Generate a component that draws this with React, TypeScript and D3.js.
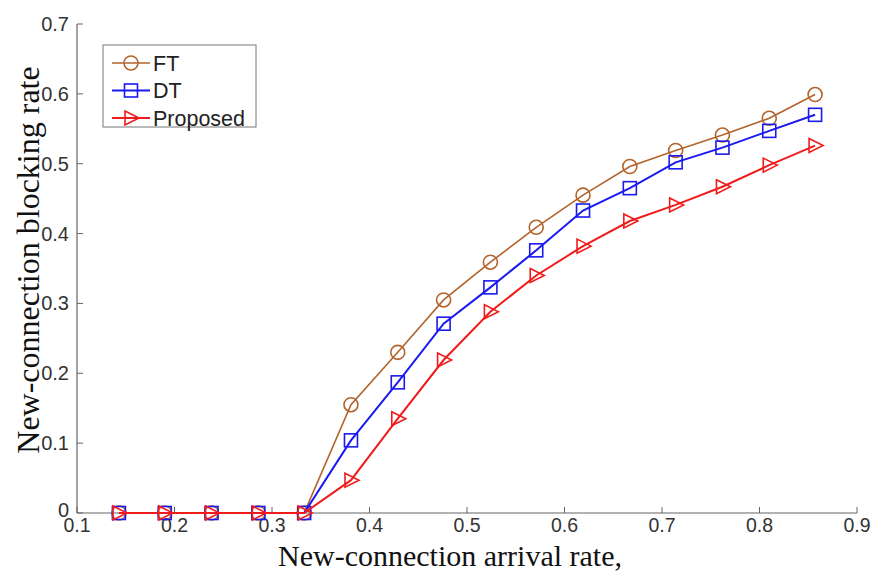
import * as d3 from "d3";

// arrival rate (x) for each simulated point
const arrivalRates = [0.143, 0.190, 0.238, 0.286, 0.333, 0.381, 0.429, 0.476, 0.524, 0.571, 0.619, 0.667, 0.714, 0.762, 0.810, 0.857];

const ftBlocking = [0, 0, 0, 0, 0, 0.155, 0.230, 0.305, 0.359, 0.409, 0.455, 0.496, 0.519, 0.541, 0.565, 0.599];
const dtBlocking = [0, 0, 0, 0, 0, 0.104, 0.187, 0.271, 0.323, 0.376, 0.433, 0.465, 0.502, 0.523, 0.547, 0.570];
const proposedBlocking = [0, 0, 0, 0, 0, 0.047, 0.135, 0.219, 0.288, 0.340, 0.382, 0.418, 0.441, 0.467, 0.498, 0.526];

const xTicks = [0.1, 0.2, 0.3, 0.4, 0.5, 0.6, 0.7, 0.8, 0.9];
const yTicks = [0, 0.1, 0.2, 0.3, 0.4, 0.5, 0.6, 0.7];

type Marker = "circle" | "square" | "triangle";

const SERIES: { name: string; values: number[]; color: string; marker: Marker; width: number }[] = [
  { name: "FT", values: ftBlocking, color: "#b3632c", marker: "circle", width: 1.6 },
  { name: "DT", values: dtBlocking, color: "#1a1af0", marker: "square", width: 2 },
  { name: "Proposed", values: proposedBlocking, color: "#f01c1c", marker: "triangle", width: 2 },
];

const W = 878;
const H = 572;
const AXIS = "#666";
const TICK_FONT = "Liberation Sans, Arial, sans-serif";
const LABEL_FONT = "Liberation Serif, Times New Roman, serif";

function MarkerShape({ type, x, y, color }: { type: Marker; x: number; y: number; color: string }) {
  const common = { fill: "none", stroke: color, strokeWidth: 1.6 };
  if (type === "circle") return <circle cx={x} cy={y} r={7} {...common} />;
  if (type === "square") return <rect x={x - 6.5} y={y - 6.5} width={13} height={13} {...common} />;
  // right-pointing triangle
  const pts = [
    [x - 6, y - 7],
    [x + 8, y],
    [x - 6, y + 7],
  ];
  return <polygon points={pts.map((p) => p.join(",")).join(" ")} {...common} />;
}

export default function App() {
  const x = d3.scaleLinear().domain([0.1, 0.9]).range([77, 857]);
  const y = d3.scaleLinear().domain([0, 0.7]).range([513, 24]);

  const line = d3
    .line<number>()
    .x((_, i) => x(arrivalRates[i]))
    .y((d) => y(d));

  const legendX = 103;
  const legendY = 45;

  return (
    <svg width={W} height={H} style={{ position: "absolute", left: 0, top: 0, background: "#fff" }}>
      {/* axes */}
      <line x1={x(0.1)} x2={x(0.9)} y1={y(0)} y2={y(0)} stroke={AXIS} strokeWidth={1.2} />
      <line x1={x(0.1)} x2={x(0.1)} y1={y(0)} y2={y(0.7)} stroke={AXIS} strokeWidth={1.2} />

      {xTicks.map((t) => (
        <g key={"x" + t}>
          <line x1={x(t)} x2={x(t)} y1={y(0)} y2={y(0) - 6} stroke={AXIS} />
          <text
            x={x(t)}
            y={y(0) + 19}
            textAnchor="middle"
            fontFamily={TICK_FONT}
            fontSize={19.5}
            fill="#333"
          >
            {d3.format(".1f")(t)}
          </text>
        </g>
      ))}

      {yTicks.map((t) => (
        <g key={"y" + t}>
          <line x1={x(0.1)} x2={x(0.1) + 6} y1={y(t)} y2={y(t)} stroke={AXIS} />
          <text
            x={x(0.1) - 8}
            y={y(t) - (t === 0 ? 3 : 0)}
            dy="0.35em"
            textAnchor="end"
            fontFamily={TICK_FONT}
            fontSize={20}
            fill="#333"
          >
            {t === 0 ? "0" : d3.format(".1f")(t)}
          </text>
        </g>
      ))}

      {/* series */}
      {SERIES.map((s) => (
        <g key={s.name}>
          <path d={line(s.values) ?? ""} fill="none" stroke={s.color} strokeWidth={s.width} />
          {s.values.map((v, i) => (
            <MarkerShape key={i} type={s.marker} x={x(arrivalRates[i])} y={y(v)} color={s.color} />
          ))}
        </g>
      ))}

      {/* legend */}
      <rect x={legendX} y={legendY} width={153} height={82} fill="#fff" stroke="#777" strokeWidth={1} />
      {SERIES.map((s, i) => {
        const cy = legendY + 18 + i * 27.5;
        return (
          <g key={"leg" + s.name}>
            <line x1={legendX + 9} x2={legendX + 47} y1={cy} y2={cy} stroke={s.color} strokeWidth={s.width} />
            <MarkerShape type={s.marker} x={legendX + 28} y={cy} color={s.color} />
            <text x={legendX + 50} y={cy} dy="0.36em" fontFamily={TICK_FONT} fontSize={21.5} fill="#222">
              {s.name}
            </text>
          </g>
        );
      })}

      {/* axis titles */}
      <text
        x={450}
        y={566}
        textAnchor="middle"
        fontFamily={LABEL_FONT}
        fontSize={30}
        fill="#111"
      >
        New-connection arrival rate,
      </text>
      <text
        transform="translate(39,260) rotate(-90)"
        textAnchor="middle"
        fontFamily={LABEL_FONT}
        fontSize={32}
        fill="#111"
      >
        New-connection blocking rate
      </text>
    </svg>
  );
}
